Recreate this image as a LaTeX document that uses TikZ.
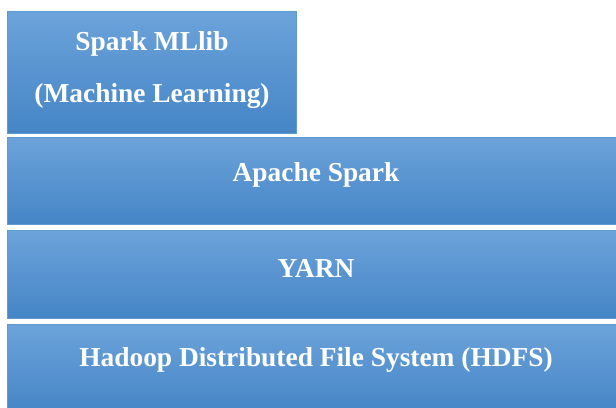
\documentclass[tikz,border=0pt]{standalone}
\usepackage{fontspec}
\setmainfont{Liberation Serif}
\definecolor{layertop}{HTML}{6CA3DA}
\definecolor{layermid}{HTML}{4F96DA}
\definecolor{layerbot}{HTML}{4585C6}
\definecolor{layeredge}{HTML}{5E9AD2}
\begin{document}
\begin{tikzpicture}[x=1bp,y=-1bp,
    layer/.style ={draw=layeredge, line width=0.6bp, top color=layertop, middle color=layermid, bottom color=layerbot},
    label/.style ={text=white, font=\bfseries\fontsize{27.5}{51.5}\selectfont, align=center, inner sep=0pt}]
   \useasboundingbox (0,0) rectangle (616,407);
   \clip (0,0) rectangle (616,407);
   % stacked layers
   \path[layer] (7,11) rectangle (296,133);
   \path[layer] (7,137) rectangle (625,224);
   \path[layer] (7,230) rectangle (625,318);
   \path[layer] (7,324) rectangle (625,412);
   % texts
   \node[label] (mllib) at (152,70) {Spark MLlib\\(Machine Learning)};
   \node[label] (spark) at (316,175) {Apache Spark};
   \node[label] (yarn) at (316,268) {YARN};
   \node[label] (hdfs) at (316,360) {Hadoop Distributed File System (HDFS)};
 \end{tikzpicture}
\end{document}
